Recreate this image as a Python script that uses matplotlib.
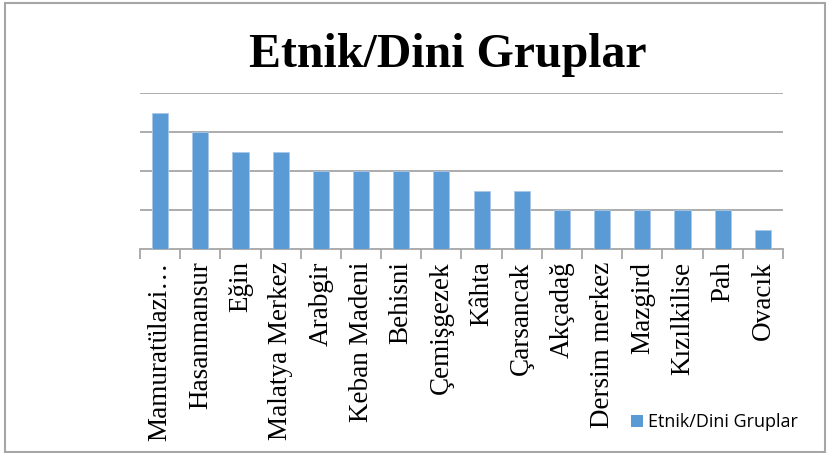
import matplotlib
matplotlib.use("Agg")
import matplotlib.pyplot as plt
from matplotlib.patches import Rectangle, Patch
import numpy as np

categories = ["Mamuratülazi…", "Hasanmansur", "Eğin", "Malatya Merkez", "Arabgir",
              "Keban Madeni", "Behisni", "Çemişgezek", "Kâhta", "Çarsancak",
              "Akçadağ", "Dersim merkez", "Mazgird", "Kızılkilise", "Pah", "Ovacık"]
values = [7, 6, 5, 5, 4, 4, 4, 4, 3, 3, 2, 2, 2, 2, 2, 1]
series_name = "Etnik/Dini Gruplar"
title = "Etnik/Dini Gruplar"

W, H = 827, 453
fig = plt.figure(figsize=(W / 100, H / 100), dpi=100)
fig.patch.set_facecolor("white")

# outer chart border
fig.add_artist(Rectangle((5 / W, 1 - 452 / H), (825 - 5) / W, (452 - 3) / H,
                         transform=fig.transFigure, fill=False,
                         edgecolor="#a6a6a6", linewidth=1.5))

ax = fig.add_axes([140 / W, 1 - 249 / H, (783 - 140) / W, (249 - 93) / H])
x = np.arange(len(categories))
ax.bar(x, values, width=0.4, color="#5b9bd5", edgecolor="#a9c8ea", linewidth=0.6,
       zorder=3, label=series_name)
ax.set_xlim(-0.5, len(categories) - 0.5)
ax.set_ylim(0, 8)
ax.set_yticks([2, 4, 6, 8])
ax.yaxis.grid(True, color="#a6a6a6", linewidth=1.3, zorder=0)
ax.tick_params(axis="y", left=False, labelleft=False)
for s in ["left", "right", "top"]:
    ax.spines[s].set_visible(False)
ax.spines["bottom"].set_color("#a6a6a6")
ax.spines["bottom"].set_linewidth(1.3)

ax.set_xticks(np.arange(-0.5, len(categories), 1.0), minor=False)
ax.set_xticklabels([])
ax.tick_params(axis="x", which="major", direction="out", length=7,
               color="#a6a6a6", width=1.3)
ax.set_xticks(x, minor=True)
ax.set_xticklabels(categories, minor=True, rotation=90, family="Liberation Serif",
                   fontsize=19.5, va="top", ha="center")
ax.tick_params(axis="x", which="minor", length=0, pad=9)

fig.text(448 / W, 1 - 55 / H, title, family="Liberation Serif", fontweight="bold",
         fontsize=34.5, ha="center", va="center")

leg = fig.legend(handles=[Patch(facecolor="#5b9bd5", edgecolor="none")],
                 labels=[series_name], loc="center left",
                 bbox_to_anchor=(631 / W, 1 - 422 / H), frameon=False,
                 prop={"family": "Open Sans", "size": 13},
                 handlelength=0.65, handleheight=0.65, handletextpad=0.3,
                 borderaxespad=0, borderpad=0)

fig.savefig("out.png", dpi=100)
